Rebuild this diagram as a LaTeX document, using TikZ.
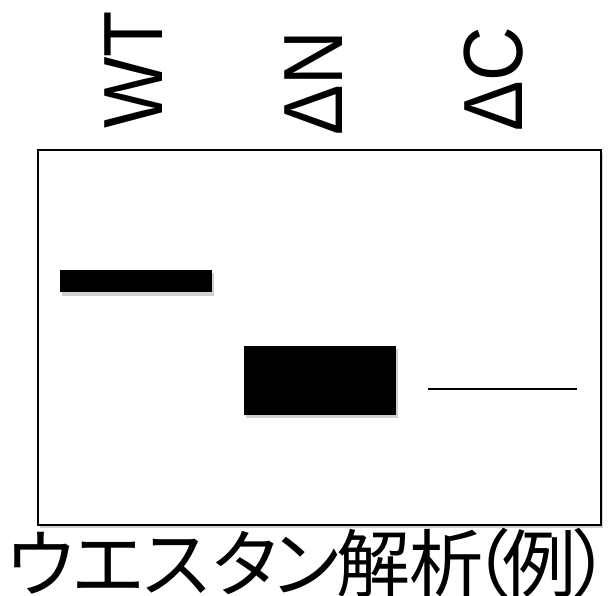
\documentclass[tikz,border=0pt]{standalone}
\usepackage{fontspec}
\setmainfont{Noto Sans CJK JP}[RawFeature=+palt]
\newfontfamily\latinfont{Liberation Sans}
\newcommand{\chat}[2]{\rlap{\hspace*{#1pt}\makebox[0pt]{#2}}}
\begin{document}
\begin{tikzpicture}[x=1pt,y=-1pt,
  lbl/.style={rotate=90,anchor=base west,inner sep=0pt,font=\latinfont\fontsize{84}{84}\selectfont},
  band/.style={fill=black,draw=none},
  shadowbox/.style={fill=black,opacity=0.18,draw=none}]
\useasboundingbox (0,0) rectangle (613,596);
% labels
\node[lbl] (wt) at (162,129) {\scalebox{0.9}[1]{WT}};
\node[lbl] (dn) at (342,136) {\scalebox{0.9}[1]{ΔN}};
\node[lbl] (dc) at (522,132) {\scalebox{0.9}[1]{ΔC}};
% blot frame
\fill[shadowbox] (40,153) rectangle (603,528);
\draw[line width=1.5pt,fill=white] (38,150) rectangle (601,525);
% bands
\fill[shadowbox] (62,273) rectangle (214,296);
\fill[band] (60,270) rectangle (212,292);
\fill[shadowbox] (246,349) rectangle (398,418);
\fill[band] (244,346) rectangle (396,415);
\draw[line width=1.5pt] (428,389) -- (577,389);
% caption
\node[anchor=base west,inner sep=0pt,font=\fontsize{74}{74}\selectfont] (cap) at (0,591)
  {\chat{40}{ウ}\chat{108}{エ}\chat{176}{ス}\chat{245}{タ}\chat{306}{ン}\chat{373}{解}\chat{446}{析}\chat{490}{（}\chat{539}{例}\chat{592}{）}\hspace*{605pt}};
\end{tikzpicture}
\end{document}
